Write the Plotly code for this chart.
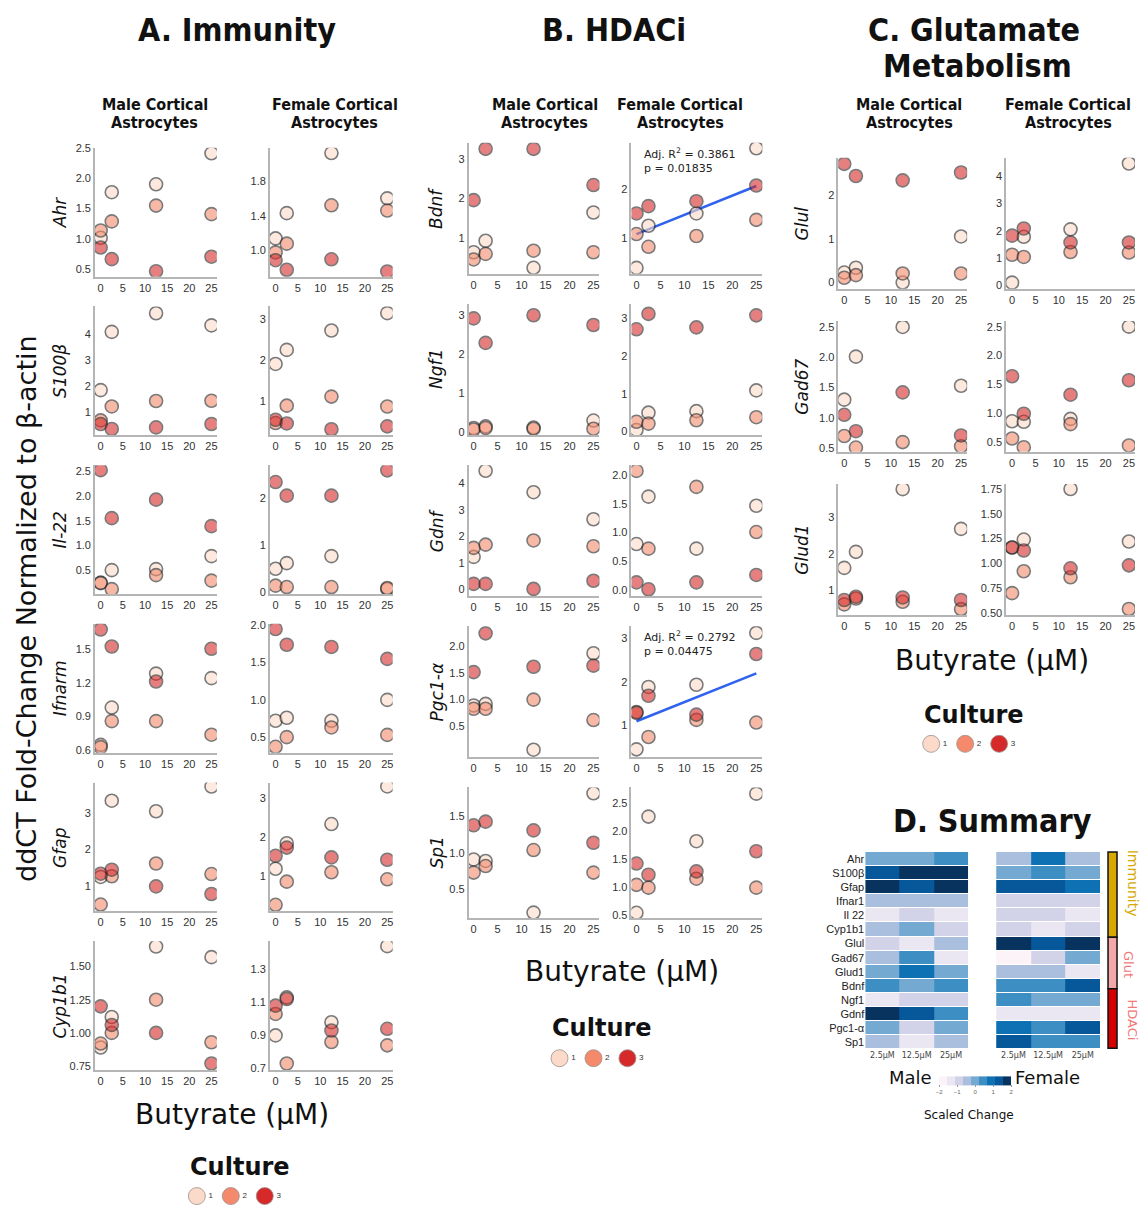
import plotly.graph_objects as go

W, H = 1140, 1210

# ---------------- data ----------------
DOSE = [0, 2.5, 12.5, 25]
CULTURES = ["1", "2", "3"]
CULTURE_COLORS = ["#fcdac9", "#f4896c", "#d62a2a"]
X_TICKS = [0, 5, 10, 15, 20, 25]

# each list: [culture1, culture2, culture3], values at DOSE
ahr_m = [[1.02, 1.77, 1.90, 2.41], [1.14, 1.29, 1.55, 1.41], [0.86, 0.67, 0.47, 0.71]]
ahr_f = [[1.14, 1.43, 2.12, 1.60], [0.98, 1.08, 1.52, 1.46], [0.89, 0.78, 0.90, 0.76]]
s100b_m = [[1.85, 4.10, 4.82, 4.35], [0.68, 1.22, 1.43, 1.44], [0.54, 0.35, 0.41, 0.54]]
s100b_f = [[1.91, 2.25, 2.72, 3.14], [0.48, 0.90, 1.12, 0.88], [0.56, 0.47, 0.33, 0.40]]
il22_m = [[0.26, 0.51, 0.53, 0.79], [0.25, 0.13, 0.41, 0.30], [2.51, 1.55, 1.92, 1.39]]
il22_f = [[0.50, 0.62, 0.77, 0.07], [0.14, 0.11, 0.11, 0.09], [2.35, 2.06, 2.06, 2.60]]
ifnar_m = [[0.65, 0.98, 1.28, 1.24], [0.63, 0.86, 0.86, 0.74], [1.67, 1.52, 1.21, 1.50]]
ifnar_f = [[0.72, 0.76, 0.72, 1.00], [0.37, 0.50, 0.63, 0.53], [1.95, 1.74, 1.71, 1.55]]
gfap_m = [[1.24, 3.34, 3.05, 3.73], [0.48, 1.26, 1.61, 1.32], [1.33, 1.44, 0.98, 0.77]]
gfap_f = [[1.20, 1.85, 2.34, 3.30], [0.28, 0.87, 1.11, 0.93], [1.53, 1.74, 1.49, 1.43]]
cyp_m = [[0.89, 1.12, 1.65, 1.57], [0.92, 1.00, 1.25, 0.93], [1.20, 1.06, 1.00, 0.77]]
cyp_f = [[0.90, 1.13, 0.98, 1.44], [1.03, 0.73, 0.86, 0.84], [1.08, 1.12, 0.93, 0.94]]

bdnf_m = [[0.65, 0.94, 0.26, 1.65], [0.47, 0.61, 0.69, 0.65], [1.96, 3.25, 3.25, 2.34]]
bdnf_f = [[0.40, 1.26, 1.51, 2.84], [1.09, 0.83, 1.05, 1.38], [1.51, 1.66, 1.76, 2.08]]
ngf_m = [[0.10, 0.14, 0.11, 0.29], [0.06, 0.10, 0.08, 0.08], [2.92, 2.29, 3.00, 2.75]]
ngf_f = [[0.04, 0.50, 0.54, 1.09], [0.26, 0.21, 0.30, 0.38], [2.71, 3.12, 2.76, 3.08]]
gdnf_m = [[1.23, 4.48, 3.67, 2.65], [1.57, 1.69, 1.85, 1.63], [0.21, 0.21, 0.02, 0.33]]
gdnf_f = [[0.80, 1.63, 0.72, 1.47], [2.08, 0.72, 1.80, 1.01], [0.13, 0.01, 0.13, 0.26]]
pgc_m = [[0.89, 0.92, 0.07, 1.86], [0.83, 0.83, 1.00, 0.62], [1.51, 2.23, 1.61, 1.63]]
pgc_f = [[0.46, 1.88, 1.93, 3.11], [1.31, 0.74, 1.13, 1.07], [1.29, 1.68, 1.25, 2.63]]
sp1_m = [[0.91, 0.89, 0.18, 1.82], [0.73, 0.82, 1.04, 0.73], [1.38, 1.43, 1.31, 1.14]]
sp1_f = [[0.54, 2.26, 1.82, 2.67], [1.04, 0.99, 1.15, 0.99], [1.42, 1.22, 1.28, 1.64]]

glul_m = [[0.23, 0.34, 0.00, 1.06], [0.11, 0.17, 0.21, 0.21], [2.73, 2.45, 2.35, 2.53]]
glul_f = [[0.10, 1.78, 2.05, 4.46], [1.12, 1.04, 1.22, 1.20], [1.82, 2.08, 1.57, 1.57]]
gad_m = [[1.30, 2.01, 2.50, 1.53], [0.70, 0.51, 0.60, 0.53], [1.05, 0.78, 1.42, 0.71]]
gad_f = [[0.86, 0.85, 0.90, 2.50], [0.56, 0.41, 0.81, 0.44], [1.64, 0.99, 1.32, 1.57]]
glud_m = [[1.61, 2.05, 3.77, 2.68], [0.61, 0.77, 0.68, 0.48], [0.73, 0.82, 0.80, 0.73]]
glud_f = [[1.16, 1.24, 1.75, 1.22], [0.70, 0.92, 0.86, 0.54], [1.16, 1.13, 0.95, 0.98]]

# linear fits (female Bdnf, female Pgc1-a), values at x = 0 and 25
fit_x = [0, 25]
bdnf_f_fit = [1.09, 2.07]
pgc_f_fit = [1.10, 2.19]
bdnf_f_stats = ["0.3861", "0.01835"]
pgc_f_stats = ["0.2792", "0.04475"]

# tick labels
ahr_m_t = ["0.5", "1.0", "1.5", "2.0", "2.5"]
ahr_f_t = ["1.0", "1.4", "1.8"]
s100b_m_t = ["1", "2", "3", "4"]
s100b_f_t = ["1", "2", "3"]
il22_m_t = ["0.5", "1.0", "1.5", "2.0", "2.5"]
il22_f_t = ["0", "1", "2"]
ifnar_m_t = ["0.6", "0.9", "1.2", "1.5"]
ifnar_f_t = ["0.5", "1.0", "1.5", "2.0"]
gfap_m_t = ["1", "2", "3"]
gfap_f_t = ["1", "2", "3"]
cyp_m_t = ["0.75", "1.00", "1.25", "1.50"]
cyp_f_t = ["0.7", "0.9", "1.1", "1.3"]
bdnf_m_t = ["1", "2", "3"]
bdnf_f_t = ["1", "2"]
ngf_m_t = ["0", "1", "2", "3"]
ngf_f_t = ["0", "1", "2", "3"]
gdnf_m_t = ["0", "1", "2", "3", "4"]
gdnf_f_t = ["0.0", "0.5", "1.0", "1.5", "2.0"]
pgc_m_t = ["0.5", "1.0", "1.5", "2.0"]
pgc_f_t = ["1", "2", "3"]
sp1_m_t = ["0.5", "1.0", "1.5"]
sp1_f_t = ["0.5", "1.0", "1.5", "2.0", "2.5"]
glul_m_t = ["0", "1", "2"]
glul_f_t = ["0", "1", "2", "3", "4"]
gad_m_t = ["0.5", "1.0", "1.5", "2.0", "2.5"]
gad_f_t = ["0.5", "1.0", "1.5", "2.0", "2.5"]
glud_m_t = ["1", "2", "3"]
glud_f_t = ["0.50", "0.75", "1.00", "1.25", "1.50", "1.75"]

genes_a = ["Ahr", "S100β", "Il-22", "Ifnarm", "Gfap", "Cyp1b1"]
genes_b = ["Bdnf", "Ngf1", "Gdnf", "Pgc1-α", "Sp1"]
genes_c = ["Glul", "Gad67", "Glud1"]

summary_genes = ["Ahr", "S100β", "Gfap", "Ifnar1", "Il 22", "Cyp1b1", "Glul",
                 "Gad67", "Glud1", "Bdnf", "Ngf1", "Gdnf", "Pgc1-α", "Sp1"]
summary_doses = ["2.5μM", "12.5μM", "25μM"]
summary_male = [
    [0, 0, 0.5], [1.5, 2, 2], [2, 1.5, 2], [-0.5, -0.5, -0.5], [-1.5, -1, -1.5],
    [-0.5, 0, -1], [-1, -1.5, -0.5], [-0.5, 0.5, -1.5], [0, 1, 0], [0.5, 0, 0.5],
    [-1.5, -1, -1], [2, 1.5, 0.5], [0, -1, 0], [-0.5, -1.5, -0.5]]
summary_female = [
    [-0.5, 1, -0.5], [0, 0.5, 0], [1.5, 1.5, 1], [-1, -1, -1], [-1, -1, -1.5],
    [-1, -1.5, -1], [2, 1.5, 2], [-2, -1, 0], [-0.5, -0.5, -1.5], [0.5, 0.5, 1.5],
    [0.5, 0, 0], [-1.5, -1.5, -1.5], [1, 0.5, 1.5], [1.5, 0.5, 0.5]]
summary_groups = ["Immunity", "Glut", "HDACi"]
BLUES9 = ["#fbf3f8", "#ebe7f2", "#d2d3e8", "#a9bfdd", "#74a9d2",
          "#3d8fc3", "#0e71b3", "#07589a", "#08335f"]

# ---------------- helpers ----------------
def fx(p):
    return p / W


def fy(p):
    return 1 - p / H


TICKFONT = dict(family="Liberation Sans, Arial, sans-serif", size=11, color="#333333")
AXCOL = "#b5b5b5"
TITLEFAM = "DejaVu Sans Condensed, Liberation Sans Narrow, DejaVu Sans, sans-serif"
VERD = "DejaVu Sans, Verdana, sans-serif"

fig = go.Figure()
layout = {}
annotations = []
shapes = []
counter = [0]


def new_axes():
    counter[0] += 1
    n = counter[0]
    return "" if n == 1 else str(n)


def scatter_panel(data, ticks, yr, xl, xr, top, bottom, xrange, fit=None, stats=None):
    s = new_axes()
    layout["xaxis" + s] = dict(domain=[fx(xl), fx(xr)], range=xrange, anchor="y" + s,
                               showline=True, linecolor=AXCOL, linewidth=1.5,
                               showgrid=False, zeroline=False, tickvals=X_TICKS,
                               ticks="", tickfont=TICKFONT, fixedrange=True)
    layout["yaxis" + s] = dict(domain=[fy(bottom), fy(top)], range=yr, anchor="x" + s,
                               showline=True, linecolor=AXCOL, linewidth=1.5,
                               showgrid=False, zeroline=False,
                               tickvals=[float(t) for t in ticks], ticktext=ticks,
                               ticks="", tickfont=TICKFONT, fixedrange=True)
    if fit is not None:
        fig.add_trace(go.Scatter(x=fit_x, y=fit, mode="lines", xaxis="x" + s, yaxis="y" + s,
                                 line=dict(color="#2f62ee", width=2.5),
                                 showlegend=False, hoverinfo="skip"))
    for ci in range(3):
        fig.add_trace(go.Scatter(
            x=DOSE, y=data[ci], mode="markers", xaxis="x" + s, yaxis="y" + s,
            marker=dict(size=13, color=CULTURE_COLORS[ci], opacity=0.6,
                        line=dict(color="#222222", width=1.6)),
            showlegend=False, hoverinfo="skip"))
    if stats is not None:
        annotations.append(dict(
            xref="paper", yref="paper", x=fx(xl + 11), y=fy(top + 1),
            xanchor="left", yanchor="top", align="left", showarrow=False,
            text="Adj. R<sup>2</sup> = " + stats[0] + "<br>p = " + stats[1],
            font=dict(family="DejaVu Sans, sans-serif", size=11, color="#222")))


def text_at(text, x, y, size, family=VERD, color="#111", angle=0):
    annotations.append(dict(xref="paper", yref="paper", x=fx(x), y=fy(y), text=text,
                            showarrow=False, textangle=angle, xanchor="center",
                            yanchor="middle", font=dict(family=family, size=size, color=color)))


def gene_label(text, x, top, bottom):
    text_at("<i>" + text + "</i>", x, (top + bottom) / 2, 17, angle=-90)


# ---------------- Panel A ----------------
A_rows = [(ahr_m, ahr_m_t, [0.38, 2.5], ahr_f, ahr_f_t, [0.70, 2.18]),
          (s100b_m, s100b_m_t, [0.10, 5.08], s100b_f, s100b_f_t, [0.18, 3.30]),
          (il22_m, il22_m_t, [0.03, 2.61], il22_f, il22_f_t, [-0.04, 2.71]),
          (ifnar_m, ifnar_m_t, [0.58, 1.72], ifnar_f, ifnar_f_t, [0.29, 2.02]),
          (gfap_m, gfap_m_t, [0.29, 3.84], gfap_f, gfap_f_t, [0.11, 3.40]),
          (cyp_m, cyp_m_t, [0.72, 1.69], cyp_f, cyp_f_t, [0.69, 1.47])]
for i, (dm, tm, rm, df, tf, rf) in enumerate(A_rows):
    top = 143 + 160 * i
    bot = top + 130
    scatter_panel(dm, tm, rm, 95, 217, top, bot, [-1.3, 26.2])
    scatter_panel(df, tf, rf, 270, 393, top, bot, [-1.3, 26.2])
    gene_label(genes_a[i], 60, top, bot)

# ---------------- Panel B ----------------
B_rows = [(bdnf_m, bdnf_m_t, [0.11, 3.40], bdnf_f, bdnf_f_t, [0.28, 2.95], bdnf_f_fit, bdnf_f_stats),
          (ngf_m, ngf_m_t, [-0.08, 3.29], ngf_f, ngf_f_t, [-0.09, 3.38], None, None),
          (gdnf_m, gdnf_m_t, [-0.25, 4.69], gdnf_f, gdnf_f_t, [-0.11, 2.18], None, None),
          (pgc_m, pgc_m_t, [-0.07, 2.36], pgc_f, pgc_f_t, [0.28, 3.26], pgc_f_fit, pgc_f_stats),
          (sp1_m, sp1_m_t, [0.10, 1.90], sp1_f, sp1_f_t, [0.44, 2.78], None, None)]
for i, (dm, tm, rm, df, tf, rf, fit, st) in enumerate(B_rows):
    top = 138 + 162.5 * i
    bot = top + 132
    scatter_panel(dm, tm, rm, 469, 600, top, bot, [-1.05, 26.25])
    scatter_panel(df, tf, rf, 632, 763, top, bot, [-1.05, 26.25], fit=fit, stats=st)
    gene_label(genes_b[i], 437, top, bot)

# ---------------- Panel C ----------------
C_rows = [(glul_m, glul_m_t, [-0.14, 2.87], glul_f, glul_f_t, [-0.12, 4.67]),
          (gad_m, gad_m_t, [0.44, 2.60], gad_f, gad_f_t, [0.33, 2.60]),
          (glud_m, glud_m_t, [0.32, 3.91], glud_f, glud_f_t, [0.48, 1.80])]
for i, (dm, tm, rm, df, tf, rf) in enumerate(C_rows):
    top = 153 + 164.5 * i
    bot = top + 132
    scatter_panel(dm, tm, rm, 839, 968, top, bot, [-1.28, 26.3])
    scatter_panel(df, tf, rf, 1007, 1136, top, bot, [-1.28, 26.3])
    gene_label(genes_c[i], 803, top, bot)

# ---------------- Legends ----------------
def culture_legend(x_first, y):
    s = new_axes()
    step = 34
    layout["xaxis" + s] = dict(domain=[fx(x_first - step / 2), fx(x_first + 2.5 * step)],
                               range=[0.5, 3.5], anchor="y" + s, visible=False, fixedrange=True)
    layout["yaxis" + s] = dict(domain=[fy(y + 10), fy(y - 10)], range=[-1, 1],
                               anchor="x" + s, visible=False, fixedrange=True)
    fig.add_trace(go.Scatter(
        x=[int(c) for c in CULTURES], y=[0] * len(CULTURES), mode="markers+text",
        text=CULTURES, textposition="middle right",
        textfont=dict(family="Liberation Sans, Arial", size=8, color="#333"),
        xaxis="x" + s, yaxis="y" + s,
        marker=dict(size=17, color=CULTURE_COLORS, line=dict(color="#9a8f8c", width=0.8)),
        showlegend=False, hoverinfo="skip"))


culture_legend(197, 1200)
culture_legend(560, 1061)
culture_legend(932, 744)

# ---------------- Heatmap (D) ----------------
colorscale = []
for i, c in enumerate(BLUES9):
    colorscale.append([i / 9, c])
    colorscale.append([(i + 1) / 9, c])

for z, (xl, xr), showy in [(summary_male, (866, 969), True), (summary_female, (997, 1101), False)]:
    s = new_axes()
    layout["xaxis" + s] = dict(domain=[fx(xl), fx(xr)], anchor="y" + s, showgrid=False,
                               zeroline=False, showline=False, ticks="",
                               tickfont=dict(family="DejaVu Sans, sans-serif", size=8, color="#444"),
                               fixedrange=True)
    layout["yaxis" + s] = dict(domain=[fy(1052), fy(853)], anchor="x" + s, showgrid=False,
                               zeroline=False, showline=False, ticks="", autorange="reversed",
                               showticklabels=showy,
                               tickfont=dict(family="Liberation Sans, Arial", size=11, color="#222"),
                               fixedrange=True)
    fig.add_trace(go.Heatmap(z=z, x=summary_doses, y=summary_genes, coloraxis="coloraxis",
                             xgap=0, ygap=1, xaxis="x" + s, yaxis="y" + s, hoverinfo="skip"))

layout["coloraxis"] = dict(
    colorscale=colorscale, cmin=-2, cmax=2,
    colorbar=dict(orientation="h", x=fx(976), xanchor="center", y=fy(1089), yanchor="middle",
                  len=72, lenmode="pixels", thickness=9, thicknessmode="pixels",
                  tickvals=[-2, -1, 0, 1, 2], ticks="outside", ticklen=2, tickcolor="#999",
                  tickfont=dict(family="Liberation Sans, Arial", size=6, color="#666"),
                  outlinewidth=0, xpad=0, ypad=0))

# group side bar
bar_bounds = [(853, 939, "#d6a800"), (939, 991, "#f4a8a8"), (991, 1051, "#d40000")]
for (t, b, c) in bar_bounds:
    shapes.append(dict(type="rect", xref="paper", yref="paper", x0=fx(1109), x1=fx(1118),
                       y0=fy(b), y1=fy(t), fillcolor=c, line=dict(color="#111", width=1.5)))
text_at(summary_groups[0], 1134, 884, 14, color="#d6a800", angle=90)
text_at(summary_groups[1], 1130, 966, 13, color="#f07878", angle=90)
text_at(summary_groups[2], 1133, 1022, 13, color="#f07878", angle=90)

# ---------------- Titles & labels ----------------
text_at("<b>A. Immunity</b>", 237, 24, 32, family=TITLEFAM)
text_at("<b>B. HDACi</b>", 615, 24, 32, family=TITLEFAM)
text_at("<b>C. Glutamate</b>", 975, 24, 32, family=TITLEFAM)
text_at("<b>Metabolism</b>", 978, 60, 32, family=TITLEFAM)
for cx in [155, 545, 910]:
    text_at("<b>Male Cortical</b>", cx, 99, 16, family=TITLEFAM)
    text_at("<b>Astrocytes</b>", cx, 117, 16, family=TITLEFAM)
for cx in [335, 681, 1069]:
    text_at("<b>Female Cortical</b>", cx, 99, 16, family=TITLEFAM)
    text_at("<b>Astrocytes</b>", cx, 117, 16, family=TITLEFAM)

text_at("ddCT Fold-Change Normalized to β-actin", 27, 607, 27, angle=-90)
text_at("Butyrate (μM)", 232, 1118, 28)
text_at("Butyrate (μM)", 623, 974, 28)
text_at("Butyrate (μM)", 993, 660, 28)
text_at("<b>Culture</b>", 240, 1171, 24)
text_at("<b>Culture</b>", 603, 1031, 24)
text_at("<b>Culture</b>", 975, 715, 24)

text_at("<b>D. Summary</b>", 993, 822, 32, family=TITLEFAM)
text_at("Male", 911, 1080, 18)
text_at("Female", 1048, 1080, 18)
text_at("Scaled Change", 970, 1118, 12)

layout.update(dict(width=W, height=H, autosize=False,
                   margin=dict(l=0, r=0, t=0, b=0, pad=0),
                   paper_bgcolor="white", plot_bgcolor="white",
                   showlegend=False, annotations=annotations, shapes=shapes))
fig.update_layout(**layout)
fig.write_html("out.html", config={"displayModeBar": False},
               post_script="document.body.style.margin='0px';document.body.style.overflow='hidden';")
